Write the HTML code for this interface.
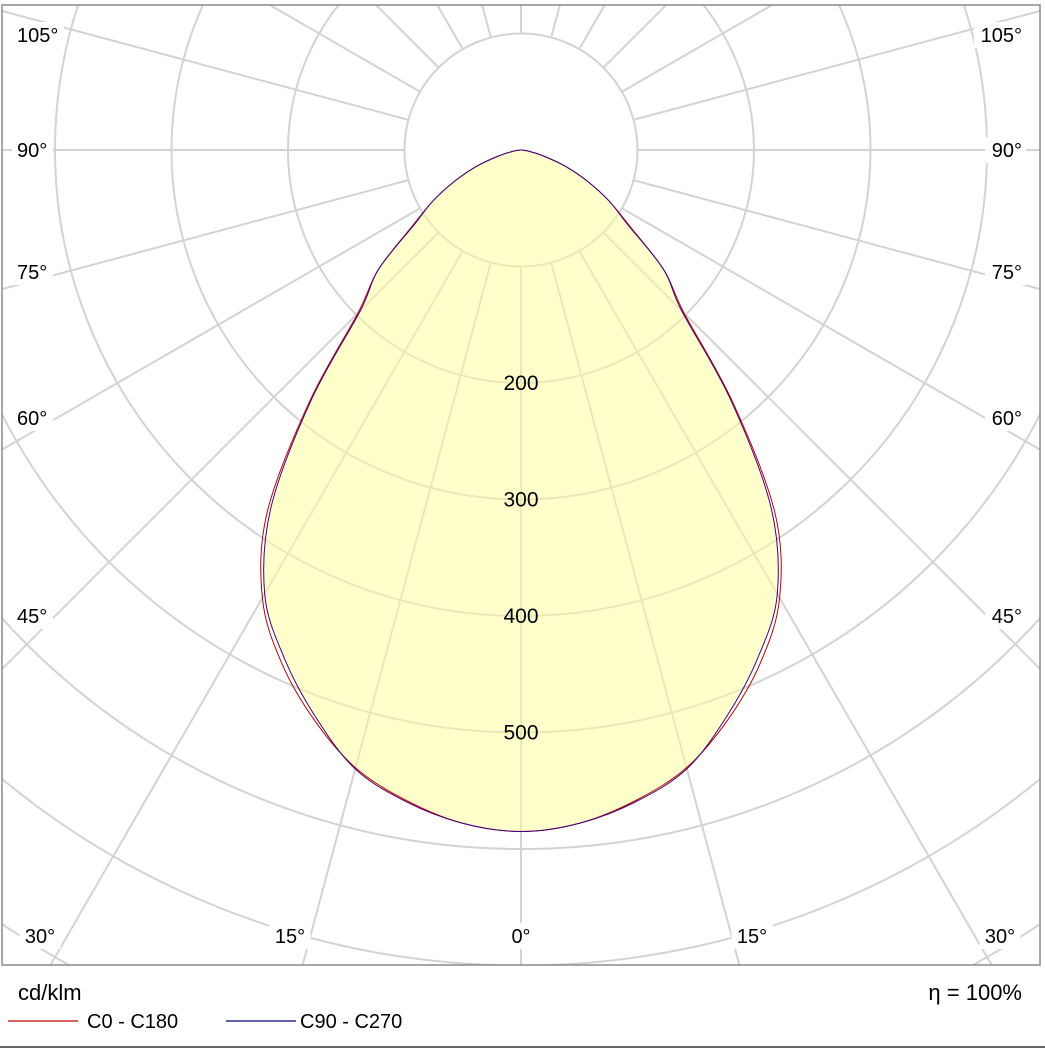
<!DOCTYPE html>
<html><head><meta charset="utf-8"><style>
html,body{margin:0;padding:0;background:#fff;width:1045px;height:1049px;overflow:hidden;}
svg{display:block;font-family:"Liberation Sans",Arial,sans-serif;}
</style></head><body>
<svg id="chart" width="1045" height="1049" viewBox="0 0 1045 1049" xmlns="http://www.w3.org/2000/svg">
<defs><clipPath id="plotclip"><rect x="2" y="5" width="1038" height="960"/></clipPath></defs>
<rect x="0" y="0" width="1045" height="1049" fill="#fff"/>
<g id="grid" clip-path="url(#plotclip)"></g>
<g id="series" clip-path="url(#plotclip)"></g>
<g id="labels"></g>
<rect x="2" y="5" width="1038" height="960" fill="none" stroke="#8a8a8a" stroke-width="1.5"/>
<line x1="0" y1="1047" x2="1045" y2="1047" stroke="#666" stroke-width="2"/>
<text x="18" y="1000" font-size="22" fill="#000">cd/klm</text>
<text x="1022" y="1000" font-size="22" fill="#000" text-anchor="end">η = 100%</text>
<line x1="8" y1="1021" x2="78" y2="1021" stroke="#c00000" stroke-width="1.2"/>
<text x="87" y="1028" font-size="20" fill="#000">C0 - C180</text>
<line x1="226" y1="1021" x2="296" y2="1021" stroke="#000080" stroke-width="1.2"/>
<text x="300" y="1028" font-size="20" fill="#000">C90 - C270</text>
</svg>
<script>
const angles = [0,5,10,15,20,25,30,35,40,45,50,55,60,65,70,75,80,85,90];
const c0c180 = [585,580,567,549,520,486,444,380,283,198,160,114,87,62,40,20,8,2,0];
const c90c270 = [585,580,568,550,517,481,440,374,280,195,160,112,87,62,40,20,8,2,0];
const ringValues = [100,200,300,400,500,600,700,800,900,1000];
const ringLabels = ["200","300","400","500"];
const spokeAngles = [0,15,30,45,60,75,90,105,120,135,150,165,180];

const NS = "http://www.w3.org/2000/svg";
const cx = 521, cy = 150, pxPer = 1.165;
function rScale(v){ return v * pxPer; }
function pt(angDeg, v, side){
  const a = angDeg * Math.PI/180, r = rScale(v);
  return [cx + side * r * Math.sin(a), cy + r * Math.cos(a)];
}
function mk(tag, attrs, parent){
  const e = document.createElementNS(NS, tag);
  for (const k in attrs) e.setAttribute(k, attrs[k]);
  parent.appendChild(e);
  return e;
}
const grid = document.getElementById('grid');
ringValues.forEach(v => {
  const c = mk('circle', {cx:cx, cy:cy, r:rScale(v), fill:'none', stroke:'#d3d3d3', 'stroke-width':2}, grid);
  
  
});
spokeAngles.forEach(a => {
  [1,-1].forEach(s => {
    if (s === -1 && (a === 0 || a === 180)) return;
    const p1 = pt(a, 100, s), p2 = pt(a, 1400, s);
    const l = mk('line', {x1:p1[0], y1:p1[1], x2:p2[0], y2:p2[1], stroke:'#d3d3d3', 'stroke-width':2}, grid);
    
    
  });
});
function curvePath(vals){
  let pts = [];
  for (let i = angles.length-1; i >= 0; i--) pts.push(pt(angles[i], vals[i], -1));
  for (let i = 1; i < angles.length-1; i++) pts.push(pt(angles[i], vals[i], 1));
  const n = pts.length;
  let d = 'M' + pts[0][0].toFixed(1) + ',' + pts[0][1].toFixed(1);
  for (let i = 0; i < n; i++){
    const p0 = pts[(i-1+n)%n], p1 = pts[i], p2 = pts[(i+1)%n], p3 = pts[(i+2)%n];
    const c1 = [p1[0]+(p2[0]-p0[0])/6, p1[1]+(p2[1]-p0[1])/6];
    const c2 = [p2[0]-(p3[0]-p1[0])/6, p2[1]-(p3[1]-p1[1])/6];
    d += ' C' + c1[0].toFixed(1)+','+c1[1].toFixed(1)+' '+c2[0].toFixed(1)+','+c2[1].toFixed(1)+' '+p2[0].toFixed(1)+','+p2[1].toFixed(1);
  }
  return d + ' Z';
}
const series = document.getElementById('series');
const fill = mk('path', {d:curvePath(c90c270), fill:'#ffff99', 'fill-opacity':0.5, stroke:'none'}, series);


const red = mk('path', {d:curvePath(c0c180), fill:'none', stroke:'#c00000', 'stroke-width':1, 'stroke-linejoin':'round'}, series);


const blue = mk('path', {d:curvePath(c90c270), fill:'none', stroke:'#400080', 'stroke-width':1, 'stroke-linejoin':'round'}, series);



const labels = document.getElementById('labels');
ringLabels.forEach(t => {
  const y = cy + rScale(Number(t)) + 7;
  const tx = mk('text', {x:cx, y:y, 'font-size':21, 'text-anchor':'middle', fill:'#000'}, labels);
  tx.textContent = t;
  
  
});
const sideLabels = [["105°",42],["90°",157],["75°",279],["60°",425],["45°",623]];
sideLabels.forEach(([t,y]) => {
  const wl = t.length*11+8;
  const b1 = mk('rect', {x:12, y:y-20, width:wl, height:26, fill:'#fff'}, labels);
   
  const a = mk('text', {x:17, y:y, 'font-size':20, fill:'#000'}, labels);
  a.textContent = t;
  
  
  const b2 = mk('rect', {x:1026-wl, y:y-20, width:wl, height:26, fill:'#fff'}, labels);
   
  const b = mk('text', {x:1022, y:y, 'font-size':20, fill:'#000', 'text-anchor':'end'}, labels);
  b.textContent = t;
  
  
});
const bottomLabels = [["30°",40],["15°",290],["0°",521],["15°",752],["30°",1000]];
bottomLabels.forEach(([t,x]) => {
  const w = t.length*11+8;
  const bg = mk('rect', {x:x-w/2, y:923, width:w, height:26, fill:'#fff'}, labels);
   
  const tx = mk('text', {x:x, y:943, 'font-size':20, 'text-anchor':'middle', fill:'#000'}, labels);
  tx.textContent = t;
  
  
});
</script>
</body></html>
